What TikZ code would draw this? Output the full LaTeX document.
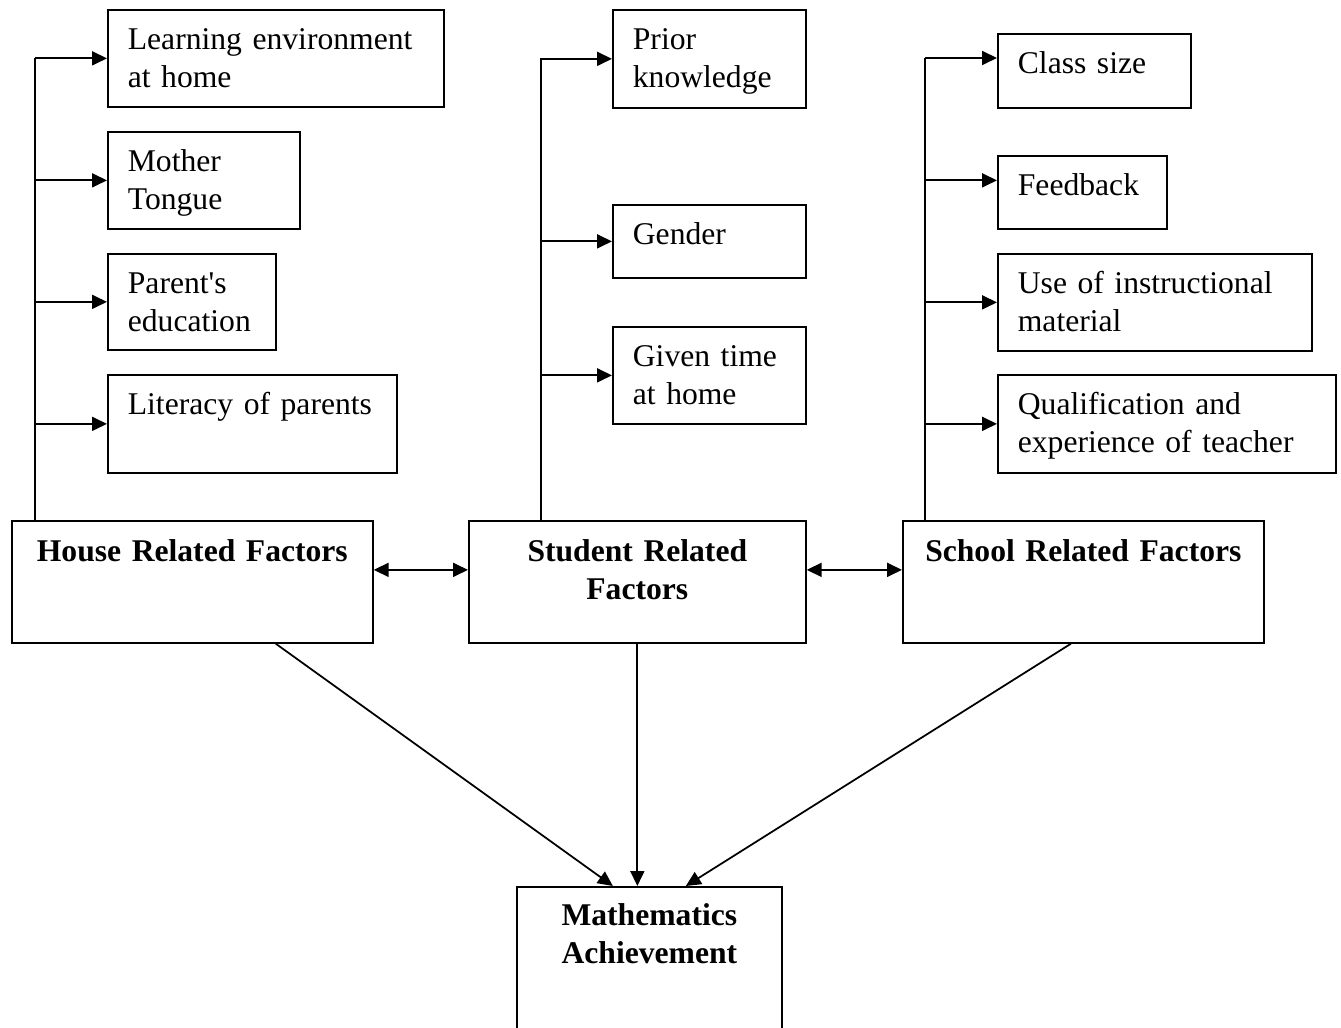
\documentclass[tikz,border=0pt]{standalone}
\usepackage{fontspec}
\setmainfont{Liberation Serif}
\usetikzlibrary{arrows.meta}
\hyphenpenalty=10000
\exhyphenpenalty=10000

\begin{document}
\begin{tikzpicture}[
  x=0.02cm, y=-0.02cm,
  every node/.style={font=\fontsize{18}{21.6}\selectfont},
  var/.style={rectangle, draw, anchor=north west, align=left, inner xsep=0.4cm, inner ysep=0pt, text height=0.8cm},
  fac/.style={rectangle, draw, anchor=north west, align=center, inner xsep=0.4cm, inner ysep=0pt, text height=0.82cm, text depth=1.62cm, font=\fontsize{18}{21.6}\selectfont\bfseries},
  res/.style={fac, text height=0.78cm, text depth=2.3cm},
  >={Triangle[length=0.3cm, width=0.28cm]}, line width=1pt
]
\useasboundingbox (0,0) rectangle (1341,1027);

% home side
\node[var, text width=5.92cm, text depth=1.14cm] (env)       at (107,9)   {Learning environment\\at home};
\node[var, text width=3.04cm, text depth=1.14cm] (tongue)    at (107,131) {Mother\\Tongue};
\node[var, text width=2.56cm, text depth=1.12cm] (parentedu) at (107,253) {Parent\textquotesingle s\\education};
\node[var, text width=4.98cm, text depth=1.16cm] (literacy)  at (107,374) {Literacy of parents};

% student side
\node[var, text width=3.06cm, text depth=1.16cm] (prior)  at (612,9)   {Prior\\knowledge};
\node[var, text width=3.06cm, text depth=0.66cm] (gender) at (612,204) {Gender};
\node[var, text width=3.06cm, text depth=1.14cm] (given)  at (612,326) {Given time\\at home};

% school side
\node[var, text width=3.06cm, text depth=0.68cm] (classsize) at (997,33)  {Class size};
\node[var, text width=2.58cm, text depth=0.66cm] (feedback)  at (997,155) {Feedback};
\node[var, text width=5.48cm, text depth=1.14cm] (material)  at (997,253) {Use of instructional\\material};
\node[var, text width=5.96cm, text depth=1.16cm] (teacher)   at (997,374) {Qualification and\\experience of teacher};

\node[fac, text width=6.42cm] (house)   at (11,520)  {House Related Factors};
\node[fac, text width=5.94cm] (student) at (468,520) {Student Related\\Factors};
\node[fac, text width=6.42cm] (school)  at (902,520) {School Related Factors};

\node[res, text width=4.5cm] (math) at (516,886) {Mathematics\\Achievement};

\coordinate (hbus) at (35,58);
\coordinate (pbus) at (541,58);
\coordinate (sbus) at (925,58);

\draw (hbus |- house.north) -- (hbus);
\draw (pbus |- student.north) -- (pbus);
\draw (sbus |- school.north) -- (sbus);

\foreach \n in {env,tongue,parentedu,literacy}
  \draw[->] (hbus |- \n.west) -- (\n.west);
\foreach \n in {prior,gender,given}
  \draw[->] (pbus |- \n.west) -- (\n.west);

\draw[->] (sbus) -- (classsize.west |- sbus);
\draw[->] (sbus |- tongue.west) -- (feedback.west |- tongue.west);
\draw[->] (sbus |- material.west) -- (material.west);
\draw[->] (sbus |- teacher.west) -- (teacher.west);

\draw[<->] ([yshift=0.24cm]house.east) -- ([yshift=0.24cm]student.west);
\draw[<->] ([yshift=0.24cm]student.east) -- ([yshift=0.24cm]school.west);

\draw[->] ([xshift=1.67cm]house.south) -- ([xshift=-0.73cm]math.north);
\draw[->] (student.south) -- (student.south |- math.north);
\draw[->] ([xshift=-0.25cm]school.south) -- ([xshift=0.73cm]math.north);

\end{tikzpicture}
\end{document}
